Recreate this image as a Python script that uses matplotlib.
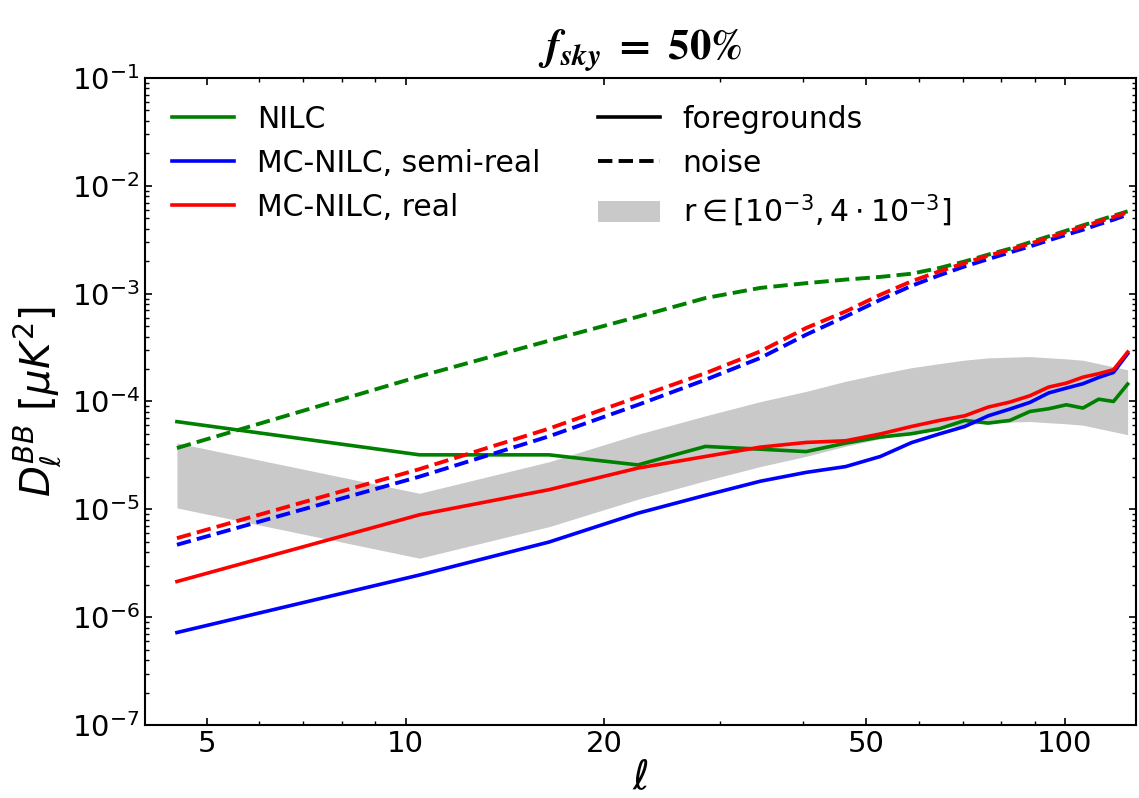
import numpy as np
import matplotlib.pyplot as plt
from matplotlib.patches import Patch
from matplotlib.lines import Line2D

# multipole bin centres (delta ell = 6)
ell = [4.5, 10.5, 16.5, 22.5, 28.5, 34.5, 40.5, 46.5, 52.5, 58.5, 64.5,
       70.5, 76.5, 82.5, 88.5, 94.5, 100.5, 106.5, 112.5, 118.5, 124.5]

# residual foregrounds
fg_nilc = [6.5e-5, 3.2e-5, 3.2e-5, 2.58e-5, 3.83e-5, 3.61e-5, 3.43e-5, 4.11e-5,
           4.68e-5, 5.02e-5, 5.58e-5, 6.67e-5, 6.3e-5, 6.67e-5, 8.08e-5, 8.56e-5,
           9.32e-5, 8.69e-5, 1.05e-4, 1.0e-4, 1.45e-4]
fg_mc_semi = [7.2e-7, 2.46e-6, 4.97e-6, 9.2e-6, 1.35e-5, 1.82e-5, 2.2e-5, 2.49e-5,
              3.09e-5, 4.15e-5, 5.0e-5, 5.86e-5, 7.36e-5, 8.5e-5, 9.8e-5, 1.2e-4,
              1.33e-4, 1.46e-4, 1.67e-4, 1.86e-4, 2.77e-4]
fg_mc_real = [2.14e-6, 8.9e-6, 1.52e-5, 2.41e-5, 3.09e-5, 3.77e-5, 4.17e-5, 4.32e-5,
              5.0e-5, 5.86e-5, 6.67e-5, 7.37e-5, 8.87e-5, 9.87e-5, 1.13e-4, 1.36e-4,
              1.48e-4, 1.68e-4, 1.81e-4, 1.97e-4, 2.87e-4]

# residual noise
nz_nilc = [3.7e-5, 1.71e-4, 3.66e-4, 6.1e-4, 9.1e-4, 1.13e-3, 1.25e-3, 1.35e-3,
           1.43e-3, 1.53e-3, 1.73e-3, 1.99e-3, 2.3e-3, 2.61e-3, 2.99e-3, 3.4e-3,
           3.84e-3, 4.3e-3, 4.78e-3, 5.28e-3, 5.8e-3]
nz_mc_semi = [4.69e-6, 2.01e-5, 4.75e-5, 9.3e-5, 1.59e-4, 2.53e-4, 4.16e-4, 6.14e-4,
              8.77e-4, 1.18e-3, 1.48e-3, 1.79e-3, 2.09e-3, 2.41e-3, 2.74e-3, 3.12e-3,
              3.52e-3, 3.91e-3, 4.39e-3, 4.85e-3, 5.4e-3]
nz_mc_real = [5.4e-6, 2.36e-5, 5.6e-5, 1.1e-4, 1.83e-4, 2.91e-4, 4.8e-4, 6.84e-4,
              9.77e-4, 1.3e-3, 1.61e-3, 1.92e-3, 2.25e-3, 2.55e-3, 2.9e-3, 3.3e-3,
              3.73e-3, 4.18e-3, 4.65e-3, 5.14e-3, 5.66e-3]

# tensor BB for r = 1e-3
bb_r1e3 = [1.03e-5, 3.52e-6, 6.9e-6, 1.24e-5, 1.84e-5, 2.49e-5, 3.1e-5, 3.85e-5,
           4.51e-5, 5.14e-5, 5.61e-5, 6.05e-5, 6.34e-5, 6.44e-5, 6.52e-5, 6.35e-5,
           6.21e-5, 6.03e-5, 5.61e-5, 5.25e-5, 4.92e-5]
r_lo, r_hi = 1e-3, 4e-3

plt.rcParams['font.family'] = 'DejaVu Sans'
plt.rcParams['mathtext.fontset'] = 'dejavusans'

fig = plt.figure(figsize=(11.39, 7.98), dpi=100)
ax = fig.add_axes([0.127, 0.0915, 0.870, 0.8108])

bb = np.array(bb_r1e3)
ax.fill_between(ell, bb * (r_lo / 1e-3), bb * (r_hi / 1e-3), color='0.79', lw=0)

ax.plot(ell, fg_nilc, color='green', lw=2.6)
ax.plot(ell, fg_mc_semi, color='blue', lw=2.6)
ax.plot(ell, fg_mc_real, color='red', lw=2.6)
ax.plot(ell, nz_nilc, color='green', lw=2.8, ls='--')
ax.plot(ell, nz_mc_semi, color='blue', lw=2.8, ls='--')
ax.plot(ell, nz_mc_real, color='red', lw=2.8, ls='--')

ax.set_xscale('log')
ax.set_yscale('log')
ax.set_xlim(4.02, 128)
ax.set_ylim(1e-7, 1e-1)
ax.set_xticks([5, 10, 20, 50, 100])
ax.set_xticklabels(['5', '10', '20', '50', '100'])
ax.xaxis.set_minor_formatter(plt.NullFormatter())
ax.tick_params(which='both', direction='in', top=True, right=True, labelsize=21)
ax.tick_params(which='major', length=5, width=1.2)
ax.tick_params(which='minor', length=3, width=1.0)
for s in ax.spines.values():
    s.set_linewidth(1.5)

ax.set_xlabel(r'$\ell$', fontsize=29, labelpad=0)
ax.set_ylabel(r'$D_\ell^{BB}\ [\mu K^2]$', fontsize=29, labelpad=6)
ax.set_title(r'$\mathbfit{f_{sky}}\ \mathbf{=\ 50\%}$', fontsize=31,
             math_fontfamily='stix', pad=14)

# method legend (colours)
h1 = [Line2D([], [], color='green', lw=2.6),
      Line2D([], [], color='blue', lw=2.6),
      Line2D([], [], color='red', lw=2.6)]
leg1 = ax.legend(h1, ['NILC', 'MC-NILC, semi-real', 'MC-NILC, real'],
                 loc='upper left', frameon=False, fontsize=21.5,
                 handlelength=2.1, handletextpad=0.75)
ax.add_artist(leg1)

# component legend (line styles)
h2 = [Line2D([], [], color='black', lw=2.6),
      Line2D([], [], color='black', lw=2.8, ls='--'),
      Patch(facecolor='0.79', edgecolor='none')]
ax.legend(h2, ['foregrounds', 'noise', r'r$\in[10^{-3}, 4\cdot10^{-3}]$'],
          loc='upper left', bbox_to_anchor=(0.43, 1.0), frameon=False,
          fontsize=21.5, handlelength=2.1, handletextpad=0.75)

fig.savefig('out.png', dpi=100)
